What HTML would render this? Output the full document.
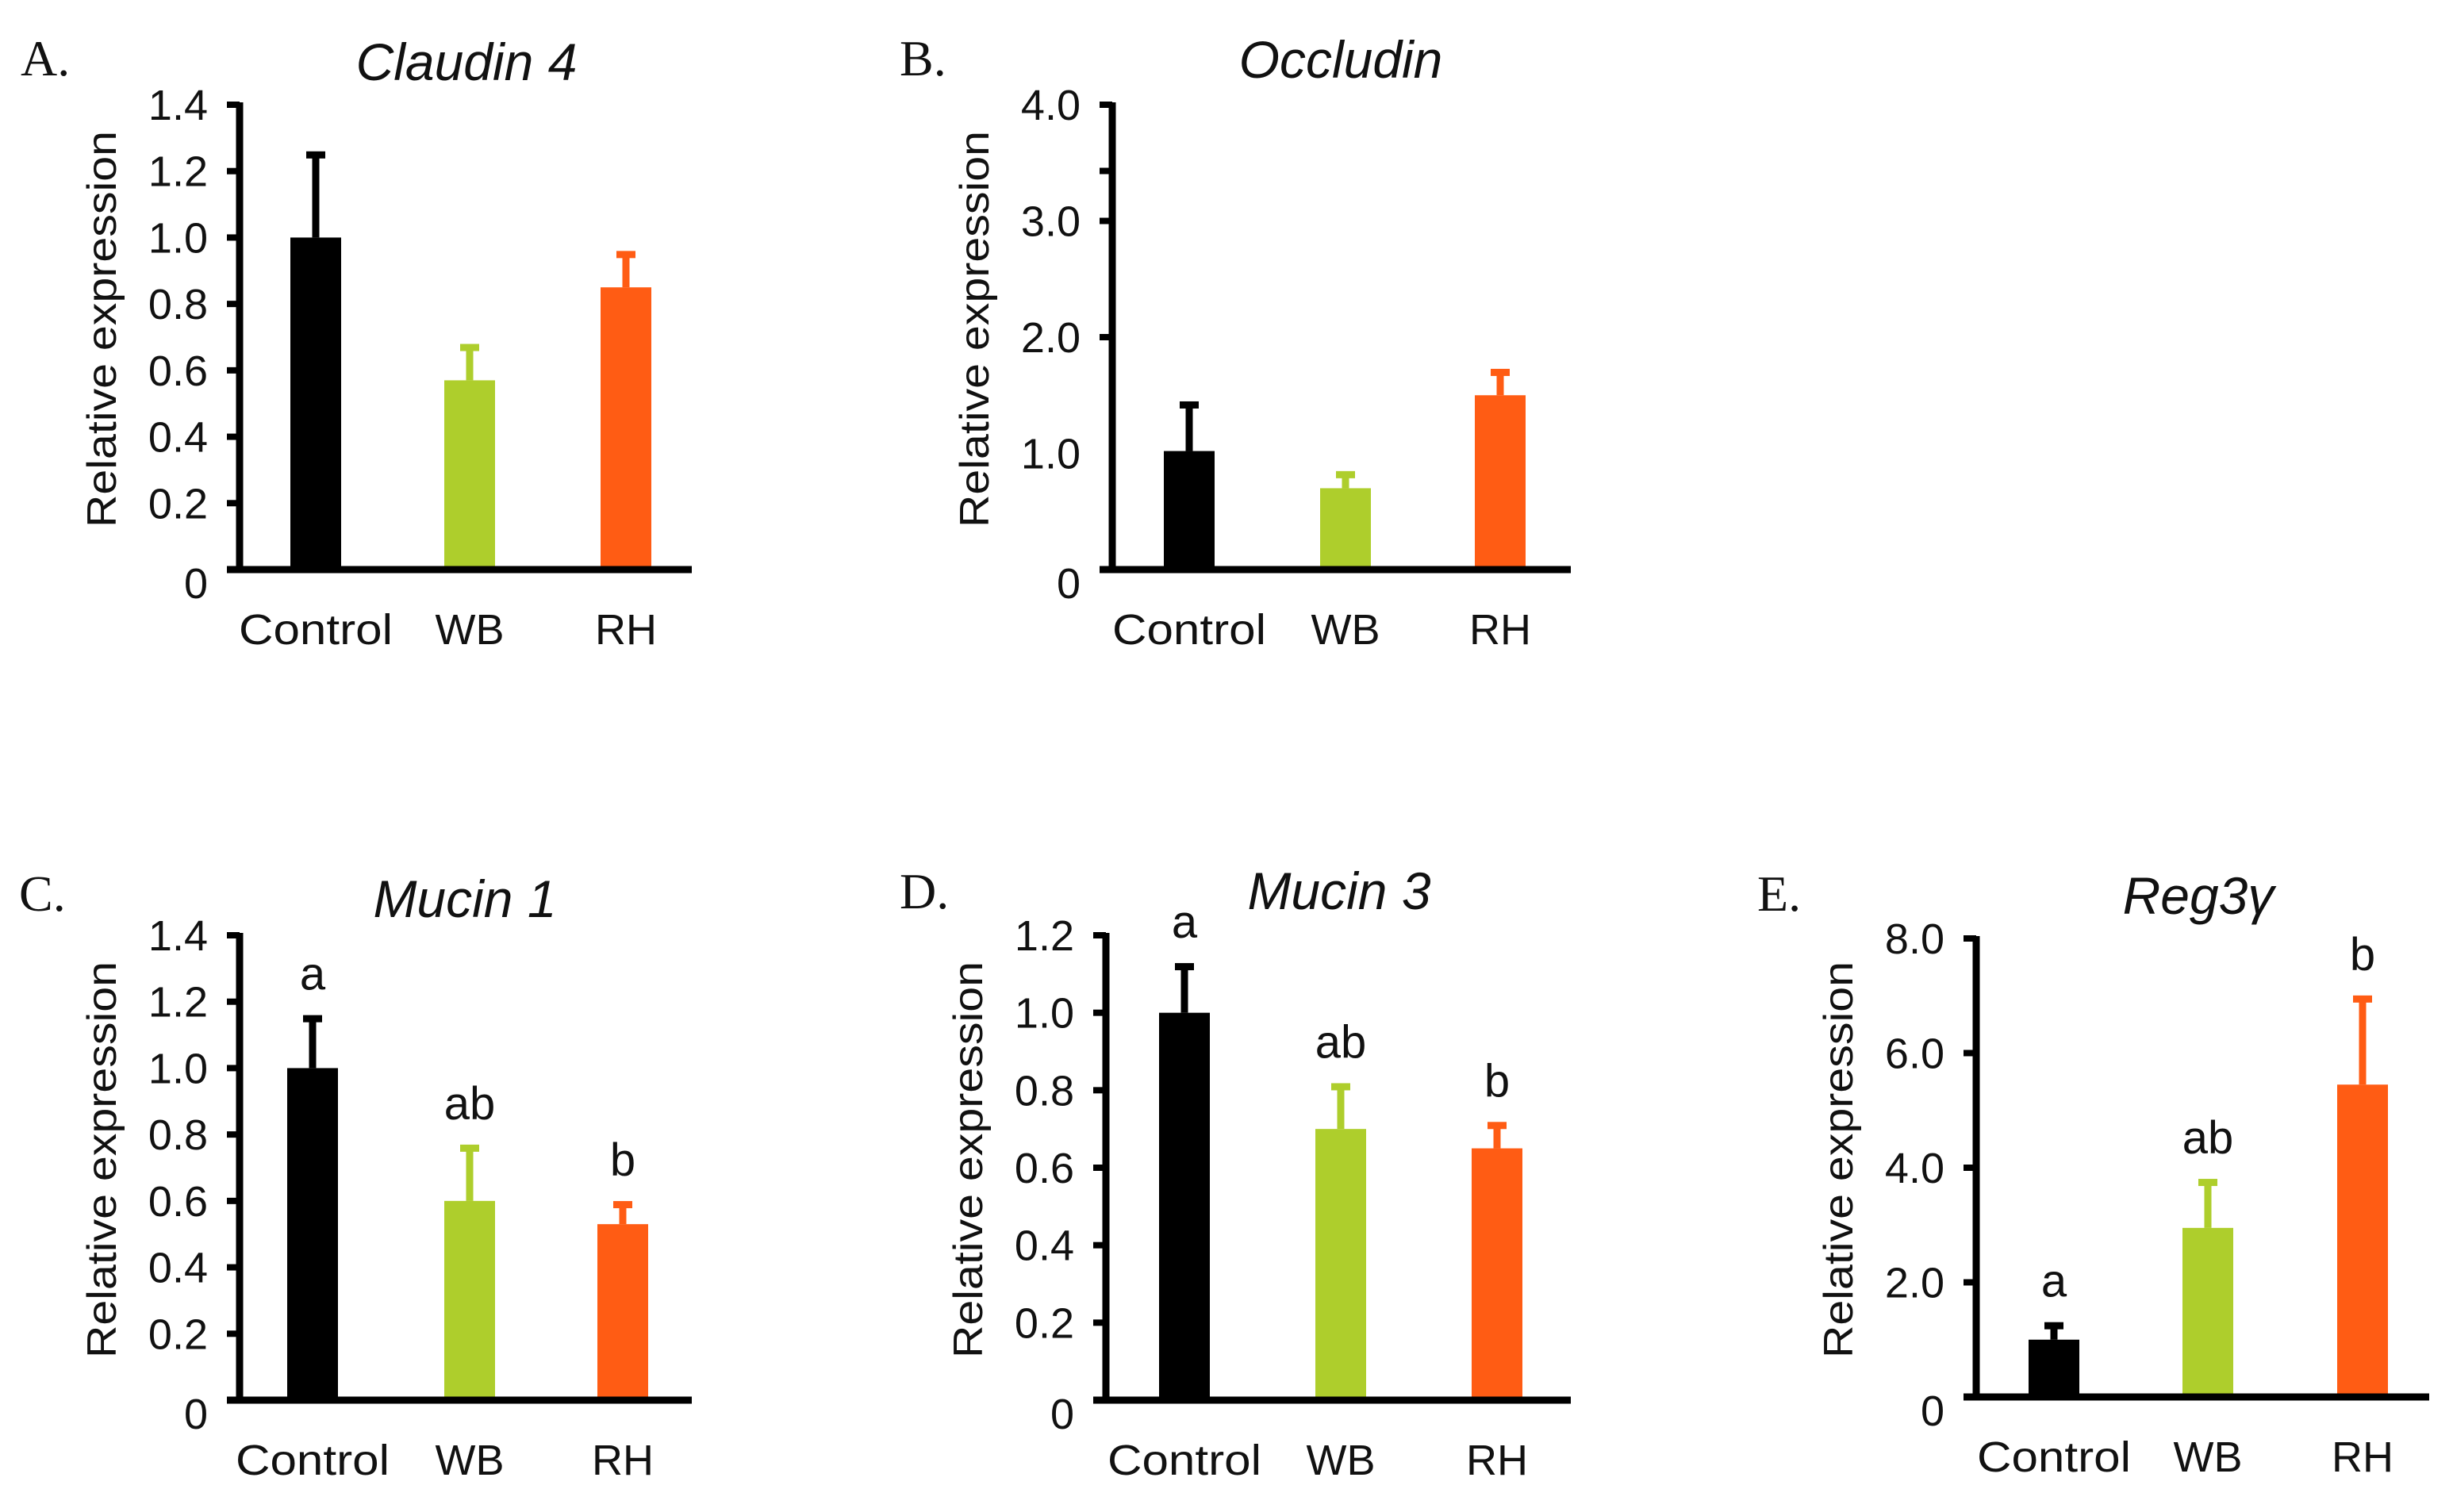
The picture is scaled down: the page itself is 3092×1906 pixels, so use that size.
<!DOCTYPE html>
<html><head><meta charset="utf-8"><style>
html,body{margin:0;padding:0;background:#fff}
svg{display:block}
text{font-family:"Liberation Sans",sans-serif;fill:#111}
.tick{font-size:54px}
.cat{font-size:54px}
.ytitle{font-size:52px}
.title{font-size:66px;font-style:italic}
.letter{font-family:"Liberation Serif",serif;font-size:64px}
.sig{font-size:58px}
</style></head><body>
<svg id="fig" width="3092" height="1906" viewBox="0 0 3092 1906" xmlns="http://www.w3.org/2000/svg"></svg>
<script>
const categories = ["Control","WB","RH"];
const colors = ["#000000","#aece2c","#ff5c14"];
const claudinValues = [1.0, 0.57, 0.85];
const claudinErr = [0.25, 0.10, 0.10];
const occludinValues = [1.02, 0.70, 1.50];
const occludinErr = [0.40, 0.12, 0.20];
const mucin1Values = [1.0, 0.60, 0.53];
const mucin1Err = [0.15, 0.16, 0.06];
const mucin3Values = [1.0, 0.70, 0.65];
const mucin3Err = [0.12, 0.11, 0.06];
const reg3Values = [1.0, 2.95, 5.45];
const reg3Err = [0.25, 0.80, 1.50];
const mucinSig = ["a","ab","b"];
const claudinTicks = [0,0.2,0.4,0.6,0.8,1.0,1.2,1.4];
const claudinTickLabels = ["0","0.2","0.4","0.6","0.8","1.0","1.2","1.4"];
const occludinTicks = [0,1,2,3,4];
const occludinTickLabels = ["0","1.0","2.0","3.0","4.0"];
const occludinMarks = [2.0,3.0,3.43,4.0];
const mucin3Ticks = [0,0.2,0.4,0.6,0.8,1.0,1.2];
const mucin3TickLabels = ["0","0.2","0.4","0.6","0.8","1.0","1.2"];
const reg3Ticks = [0,2,4,6,8];
const reg3TickLabels = ["0","2.0","4.0","6.0","8.0"];

const NS="http://www.w3.org/2000/svg";
const svg=document.getElementById('fig');
function mk(tag,attrs,parent){const e=document.createElementNS(NS,tag);for(const k in attrs)e.setAttribute(k,attrs[k]);(parent||svg).appendChild(e);return e;}

function panel(p){
  const g=mk('g',{});
  
  
  const y=v=>p.zero-(v/p.max)*(p.zero-p.top);
  const L=mk('text',{x:p.lx,y:p.ly,class:'letter'},g);L.textContent=p.letter;
  
  
  const T=mk('text',{x:p.tx,y:p.ty,class:'title','text-anchor':'middle'},g);T.textContent=p.title;
  
  
  const yc=(p.top+p.zero)/2;
  const YT=mk('text',{x:0,y:0,class:'ytitle','text-anchor':'middle',textLength:500,lengthAdjust:'spacingAndGlyphs',transform:`translate(${p.ax-156},${yc-10}) rotate(-90)`},g);
  YT.textContent='Relative expression';
  
  
  p.values.forEach((v,i)=>{
    const cx=p.bars[i];
    const col=colors[i];
    const et=y(v+p.err[i]);
    const eb=mk('line',{x1:cx,x2:cx,y1:y(v),y2:et,stroke:col,'stroke-width':9},g);
    
    
    const cap=mk('rect',{x:cx-12,y:et-4,width:24,height:9,fill:col},g);
    
    
    const r=mk('rect',{x:cx-32,y:y(v),width:64,height:p.zero-y(v),fill:col},g);
    
    
    if(p.sig){
      const s=mk('text',{x:cx,y:et-36,class:'sig','text-anchor':'middle'},g);s.textContent=p.sig[i];
      
      
    }
    const c=mk('text',{x:cx,y:p.zero+94,class:'cat','text-anchor':'middle'},g);c.textContent=categories[i];
    if(i===0){c.setAttribute('textLength',194);c.setAttribute('lengthAdjust','spacingAndGlyphs');}
    
    
  });
  const ya=mk('line',{x1:p.ax,x2:p.ax,y1:p.top-3,y2:p.zero+4,stroke:'#000','stroke-width':9},g);
  
  
  const xa=mk('line',{x1:p.ax-16,x2:p.xend,y1:p.zero,y2:p.zero,stroke:'#000','stroke-width':9},g);
  
  
  (p.marks||p.ticks).forEach(t=>{
    const tk=mk('line',{x1:p.ax-16,x2:p.ax,y1:y(t),y2:y(t),stroke:'#000','stroke-width':8},g);
    
    
  });
  p.ticks.forEach((t,i)=>{
    const tl=mk('text',{x:p.ax-40,y:y(t)+(t===0?36:19),class:'tick','text-anchor':'end'},g);tl.textContent=p.labels[i];
    
    
  });
}
panel({id:'a',letter:'A.',lx:26,ly:95,title:'Claudin 4',tx:588,ty:101,ax:302,top:132,zero:718,xend:872,max:1.4,bars:[398,592,789],values:claudinValues,err:claudinErr,ticks:claudinTicks,labels:claudinTickLabels});
panel({id:'b',letter:'B.',lx:1134,ly:95,title:'Occludin',tx:1690,ty:98,ax:1402,top:132,zero:718,xend:1980,max:4,bars:[1499,1696,1891],values:occludinValues,err:occludinErr,ticks:occludinTicks,labels:occludinTickLabels,marks:occludinMarks});
panel({id:'c',letter:'C.',lx:24,ly:1148,title:'Mucin 1',tx:586,ty:1156,ax:302,top:1179,zero:1765,xend:872,max:1.4,bars:[394,592,785],values:mucin1Values,err:mucin1Err,ticks:claudinTicks,labels:claudinTickLabels,sig:mucinSig});
panel({id:'d',letter:'D.',lx:1134,ly:1145,title:'Mucin 3',tx:1688,ty:1146,ax:1394,top:1179,zero:1765,xend:1980,max:1.2,bars:[1493,1690,1887],values:mucin3Values,err:mucin3Err,ticks:mucin3Ticks,labels:mucin3TickLabels,sig:mucinSig});
panel({id:'e',letter:'E.',lx:2215,ly:1148,title:'Reg3γ',tx:2771,ty:1152,ax:2491,top:1183,zero:1761,xend:3062,max:8,bars:[2589,2783,2978],values:reg3Values,err:reg3Err,ticks:reg3Ticks,labels:reg3TickLabels,sig:mucinSig});
</script>
</body></html>
